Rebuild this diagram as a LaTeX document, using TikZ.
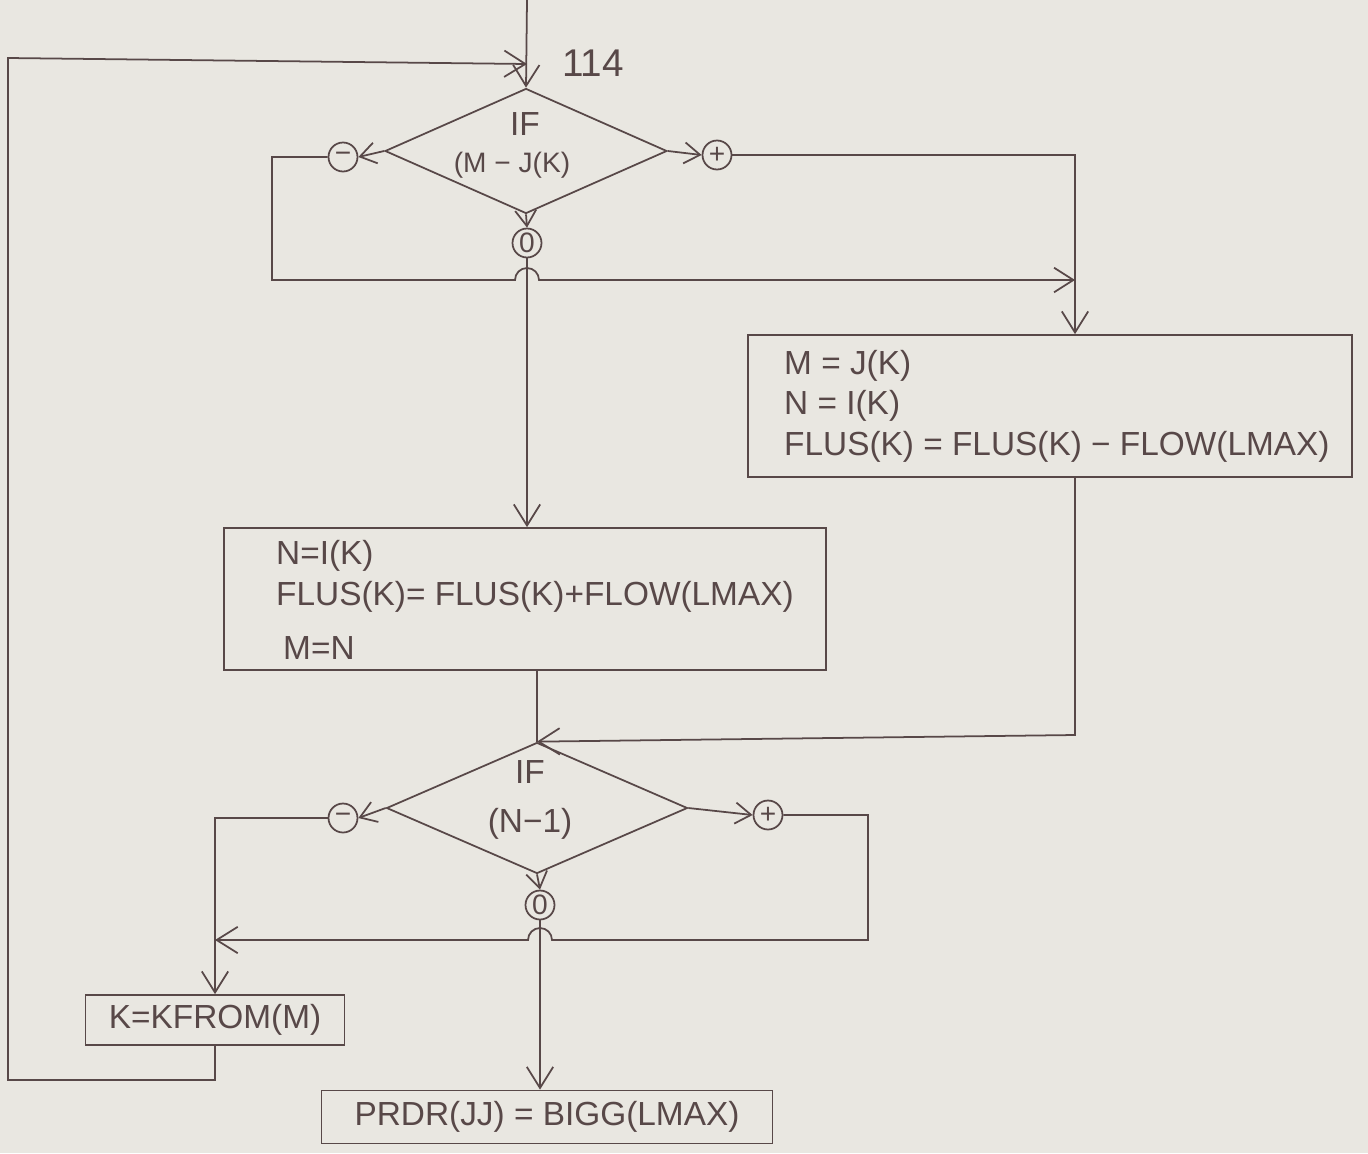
\documentclass[tikz,border=0pt]{standalone}
\usepackage{fontspec}
\setmainfont{Liberation Sans}
\usetikzlibrary{shapes.geometric,arrows.meta,calc}
\definecolor{paper}{RGB}{233,231,225}
\definecolor{ink}{RGB}{88,72,72}
\begin{document}
\begin{tikzpicture}[x=0.02cm,y=-0.02cm,
  every node/.style={text=ink,font=\fontsize{19}{23}\selectfont},
  line/.style={draw=ink,line width=1pt},
  arr/.style={line,-{Straight Barb[length=9pt,width=12pt,line width=1pt]}},
  bigarr/.style={line,-{Straight Barb[length=12pt,width=15pt,line width=1pt]}},
  decide/.style={diamond,draw=ink,line width=1pt,inner sep=0pt},
  procbox/.style={rectangle,draw=ink,line width=1pt,inner sep=0pt},
  sign/.style={circle,draw=ink,line width=1pt,minimum size=0.58cm,inner sep=0pt,font=\fontsize{16}{16}\selectfont}]
\fill[paper] (0,0) rectangle (1368,1153);
\useasboundingbox (0,0) rectangle (1368,1153);

% coordinates
\coordinate (top) at (527,0);
\coordinate (ret) at (527,64);
\coordinate (rx) at (1075,0);
\coordinate (lx1) at (272,0);
\coordinate (ya) at (0,280);
\coordinate (yb) at (0,940);
\coordinate (yc) at (0,1080);
\coordinate (rx2) at (868,0);
\coordinate (ld) at (8,0);

% top decision
\node[decide,minimum width=5.64cm,minimum height=2.5cm] (d1) at (526,151) {};
\node (d1a) at (525,124) {IF};
\node[font=\fontsize{16}{20}\selectfont] (d1b) at (512,165) {(M − J(K)};
\node[font=\fontsize{22}{22}\selectfont] (lbl) at (593,63) {114};
\node[sign] (n1) at (343,157) {−};
\node[sign] (p1) at (717,155) {+};
\node[sign] (z1) at (527,243) {0};

% boxes
\node[procbox,minimum width=12.08cm,minimum height=2.84cm] (r) at (1050,406) {};
\node[anchor=west,align=left] (rt) at (778,406)
  {M = J(K)\\N = I(K)\\FLUS(K) = FLUS(K) − FLOW(LMAX)};
\node[procbox,minimum width=12.04cm,minimum height=2.84cm] (m) at (525,599) {};
\node[anchor=west,align=left] (mt) at (270,600)
  {N=I(K)\\FLUS(K)= FLUS(K)+FLOW(LMAX)\\[8pt]\hspace{4pt}M=N};

% bottom decision
\node[decide,minimum width=6.02cm,minimum height=2.62cm] (d2) at (537,808) {};
\node (d2a) at (530,772) {IF};
\node (d2b) at (530,824) {(N−1)};
\node[sign] (n2) at (343,818) {−};
\node[sign] (p2) at (768,815) {+};
\node[sign] (z2) at (540,905) {0};

\node[procbox,minimum width=5.18cm,minimum height=1.0cm] (k) at (215,1020) {K=KFROM(M)};
\node[procbox,minimum width=9.02cm,minimum height=1.06cm] (pr) at (547,1117) {PRDR(JJ) = BIGG(LMAX)};

% connectors top
\draw[bigarr] (top) -- (d1.north);
\draw[bigarr] (k.south) -- (k.south |- yc) -- (ld |- yc) -- (8,58) -- (ret);
\draw[arr] (d1.west) -- (n1.east);
\draw[arr] (d1.east) -- (p1.west);
\draw[arr] (d1.south) -- (z1.north);
\draw[line,-{Straight Barb[length=11pt,width=14pt,line width=1pt]}] (n1.west) -- (n1.west -| lx1) -- (lx1 |- ya) -- (515,280)
  arc[start angle=180,end angle=0,radius=0.24cm] -- (rx |- ya);
\draw[bigarr] (p1.east) -- (p1.east -| rx) -- (r.north -| rx);
\draw[bigarr] (z1.south) -- (m.north -| z1);

% middle
\draw[bigarr] (r.south -| rx) -- (1075,735) -- (d2.north);
\draw[line] (m.south -| d2.north) -- (d2.north);

% bottom decision connectors
\draw[arr] (d2.west) -- (n2.east);
\draw[arr] (d2.east) -- (p2.west);
\draw[arr] (d2.south) -- (z2.north);
\draw[bigarr] (n2.west) -| (k.north);
\draw[bigarr] (p2.east) -- (p2.east -| rx2) -- (rx2 |- yb) -- (552,940)
  arc[start angle=0,end angle=180,radius=0.24cm] -- (k.north |- yb);
\draw[bigarr] (z2.south) -- (pr.north -| z2);
\end{tikzpicture}
\end{document}
